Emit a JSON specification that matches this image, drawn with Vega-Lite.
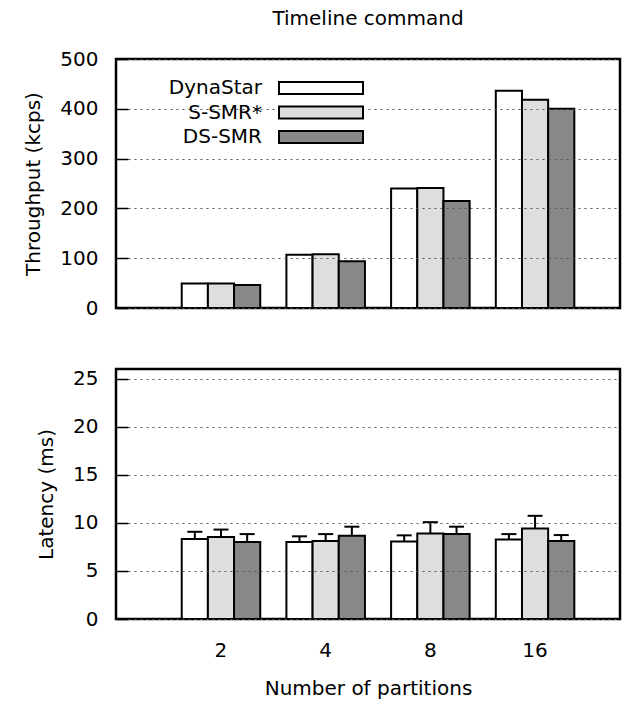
{
  "$schema": "https://vega.github.io/schema/vega-lite/v6.json",
  "padding": {"left": 22, "top": 7, "right": 5, "bottom": 5},
  "background": "white",
  "config": {
    "font": "DejaVu Sans",
    "view": {"stroke": "black", "strokeWidth": 2.5},
    "axis": {
      "labelFontSize": 20,
      "titleFontSize": 20,
      "labelColor": "black",
      "titleColor": "black",
      "titleFontWeight": "normal",
      "labelFont": "DejaVu Sans",
      "titleFont": "DejaVu Sans",
      "gridColor": "#555555",
      "gridDash": [2, 4],
      "gridWidth": 1,
      "domain": false,
      "tickColor": "black",
      "tickWidth": 1.5
    },
    "title": {"fontSize": 20, "fontWeight": "normal", "color": "black", "font": "DejaVu Sans"},
    "legend": {"labelFont": "DejaVu Sans"}
  },
  "datasets": {
    "tp": [
      {"partitions": "2", "system": "DynaStar", "throughput": 49},
      {"partitions": "2", "system": "S-SMR*", "throughput": 49},
      {"partitions": "2", "system": "DS-SMR", "throughput": 46},
      {"partitions": "4", "system": "DynaStar", "throughput": 107},
      {"partitions": "4", "system": "S-SMR*", "throughput": 108},
      {"partitions": "4", "system": "DS-SMR", "throughput": 94},
      {"partitions": "8", "system": "DynaStar", "throughput": 240},
      {"partitions": "8", "system": "S-SMR*", "throughput": 241},
      {"partitions": "8", "system": "DS-SMR", "throughput": 215},
      {"partitions": "16", "system": "DynaStar", "throughput": 436},
      {"partitions": "16", "system": "S-SMR*", "throughput": 418},
      {"partitions": "16", "system": "DS-SMR", "throughput": 400}
    ],
    "lat": [
      {"partitions": "2", "system": "DynaStar", "latency": 8.33, "upper": 9.07},
      {"partitions": "2", "system": "S-SMR*", "latency": 8.53, "upper": 9.3},
      {"partitions": "2", "system": "DS-SMR", "latency": 8.0, "upper": 8.83},
      {"partitions": "4", "system": "DynaStar", "latency": 8.0, "upper": 8.6},
      {"partitions": "4", "system": "S-SMR*", "latency": 8.1, "upper": 8.83},
      {"partitions": "4", "system": "DS-SMR", "latency": 8.67, "upper": 9.6},
      {"partitions": "8", "system": "DynaStar", "latency": 8.07, "upper": 8.7},
      {"partitions": "8", "system": "S-SMR*", "latency": 8.9, "upper": 10.07},
      {"partitions": "8", "system": "DS-SMR", "latency": 8.83, "upper": 9.6},
      {"partitions": "16", "system": "DynaStar", "latency": 8.27, "upper": 8.83},
      {"partitions": "16", "system": "S-SMR*", "latency": 9.4, "upper": 10.73},
      {"partitions": "16", "system": "DS-SMR", "latency": 8.1, "upper": 8.73}
    ]
  },
  "spacing": 47,
  "vconcat": [
    {
      "title": {"text": "Timeline command", "frame": "group", "anchor": "middle", "offset": 20},
      "width": 504,
      "height": 249,
      "data": {"name": "tp"},
      "mark": {"type": "bar", "stroke": "black", "strokeWidth": 2},
      "encoding": {
        "x": {
          "field": "partitions", "type": "ordinal", "sort": ["2", "4", "8", "16"],
          "scale": {"paddingInner": 0.25, "paddingOuter": 0.532, "align": 0.59},
          "axis": null
        },
        "xOffset": {
          "field": "system", "type": "nominal", "sort": ["DynaStar", "S-SMR*", "DS-SMR"],
          "scale": {"paddingInner": 0, "paddingOuter": 0}
        },
        "y": {
          "field": "throughput", "type": "quantitative",
          "scale": {"domain": [0, 500]},
          "axis": {"title": "Throughput (kcps)", "values": [0, 100, 200, 300, 400, 500], "ticks": true, "tickSize": -12, "zindex": 1, "labelPadding": 30, "titlePadding": 16}
        },
        "fill": {
          "field": "system", "type": "nominal", "sort": ["DynaStar", "S-SMR*", "DS-SMR"],
          "scale": {"domain": ["DynaStar", "S-SMR*", "DS-SMR"], "range": ["#ffffff", "#dedede", "#888888"]},
          "legend": {
            "orient": "none", "legendX": 192, "legendY": 16, "title": null,
            "symbolType": "M-3.5,-0.5H3.5V0.5H-3.5Z", "symbolSize": 576,
            "symbolStrokeColor": "black", "symbolStrokeWidth": 2, "symbolOpacity": 1,
            "labelFontSize": 20, "labelColor": "black", "labelAlign": "right", "labelOffset": -72,
            "rowPadding": 1.5, "fillColor": "white", "padding": 0, "labelLimit": 200
          }
        }
      }
    },
    {
      "width": 504,
      "height": 250,
      "data": {"name": "lat"},
      "encoding": {
        "x": {
          "field": "partitions", "type": "ordinal", "sort": ["2", "4", "8", "16"],
          "scale": {"paddingInner": 0.25, "paddingOuter": 0.532, "align": 0.59},
          "axis": {"title": "Number of partitions", "labelAngle": 0, "ticks": false, "grid": false, "labelPadding": 21, "titlePadding": 18}
        },
        "xOffset": {
          "field": "system", "type": "nominal", "sort": ["DynaStar", "S-SMR*", "DS-SMR"],
          "scale": {"paddingInner": 0, "paddingOuter": 0}
        }
      },
      "layer": [
        {
          "mark": {"type": "rule", "strokeWidth": 2, "color": "black"},
          "encoding": {
            "y": {"field": "latency", "type": "quantitative"},
            "y2": {"field": "upper"}
          }
        },
        {
          "mark": {"type": "tick", "thickness": 2, "size": 15, "color": "black", "opacity": 1},
          "encoding": {
            "y": {"field": "upper", "type": "quantitative"}
          }
        },
        {
          "mark": {"type": "bar", "stroke": "black", "strokeWidth": 2},
          "encoding": {
            "y": {
              "field": "latency", "type": "quantitative",
              "scale": {"domain": [0, 25]},
              "axis": {"title": "Latency (ms)", "values": [0, 5, 10, 15, 20, 25], "ticks": true, "tickSize": -12, "zindex": 1, "labelPadding": 30, "titlePadding": 16}
            },
            "fill": {
              "field": "system", "type": "nominal",
              "scale": {"domain": ["DynaStar", "S-SMR*", "DS-SMR"], "range": ["#ffffff", "#dedede", "#888888"]},
              "legend": null
            }
          }
        }
      ]
    }
  ]
}
